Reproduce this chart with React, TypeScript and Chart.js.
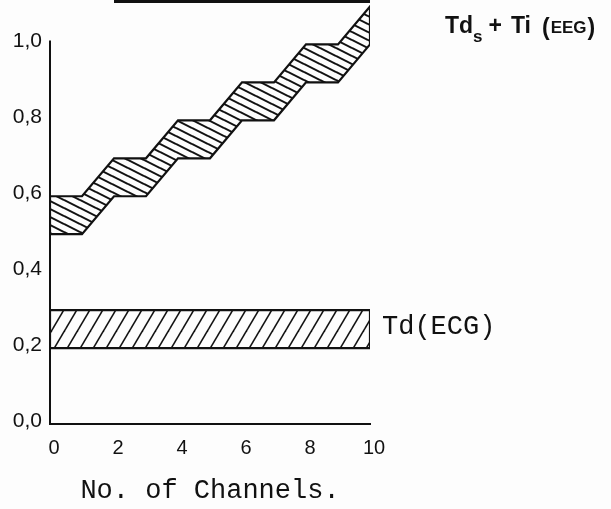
import React, { useEffect, useRef } from "react";
import { Chart, registerables } from "chart.js";

Chart.register(...registerables);

// Channel positions along the x axis
const channels = [0, 1, 2, 3, 4, 5, 6, 7, 8, 9, 10];
// EEG delay band (Td_s + Ti): upper and lower edges per channel count
const eegUpper = [0.6, 0.6, 0.7, 0.7, 0.8, 0.8, 0.9, 0.9, 1.0, 1.0, 1.1];
const eegLower = [0.5, 0.5, 0.6, 0.6, 0.7, 0.7, 0.8, 0.8, 0.9, 0.9, 1.0];
// ECG delay band (Td): constant over all channels
const ecgChannels = [0, 10];
const ecgUpper = [0.3, 0.3];
const ecgLower = [0.2, 0.2];
// Rule running along the top edge
const ruleChannels = [2, 10];
const ruleLevel = [1.113, 1.113];

const yTicks = [0, 0.2, 0.4, 0.6, 0.8, 1.0];
const xTicks = [0, 2, 4, 6, 8, 10];
const yAxisTop = 1.01;
const yMax = 1.117;

const INK = "#111111";

function bandPolygon(xs: number[], upper: number[], lower: number[]) {
  const top = xs.map((x, i) => ({ x, y: upper[i] }));
  const bottom = xs.map((x, i) => ({ x, y: lower[i] })).reverse();
  return [...top, ...bottom, top[0]];
}

function hatch(
  ctx: CanvasRenderingContext2D,
  w: number,
  h: number,
  dir: "down" | "up",
  lw: number
) {
  const tile = document.createElement("canvas");
  tile.width = w;
  tile.height = h;
  const g = tile.getContext("2d")!;
  g.strokeStyle = INK;
  g.lineWidth = lw;
  for (const dx of [-w, 0, w]) {
    for (const dy of [-h, 0, h]) {
      g.beginPath();
      if (dir === "down") {
        g.moveTo(dx, dy);
        g.lineTo(dx + w, dy + h);
      } else {
        g.moveTo(dx, dy + h);
        g.lineTo(dx + w, dy);
      }
      g.stroke();
    }
  }
  return ctx.createPattern(tile, "repeat")!;
}

const labelsPlugin = {
  id: "bandLabels",
  afterDatasetsDraw(chart: any) {
    const { ctx } = chart;
    const x = chart.scales.x;
    const y = chart.scales.y;
    ctx.save();
    // vertical axis line, stopping just above 1,0
    ctx.strokeStyle = INK;
    ctx.lineWidth = 2;
    ctx.beginPath();
    const x0 = x.getPixelForValue(0);
    ctx.moveTo(x0, y.getPixelForValue(0) + 1);
    ctx.lineTo(x0, y.getPixelForValue(yAxisTop));
    ctx.stroke();

    ctx.fillStyle = INK;
    // Td(ECG)
    ctx.font = "27px 'Liberation Mono', 'DejaVu Sans Mono', monospace";
    ctx.textBaseline = "middle";
    ctx.textAlign = "left";
    ctx.fillText("Td(ECG)", x.getPixelForValue(10) + 12, y.getPixelForValue(0.256));

    // Td_s + Ti (EEG)
    let px = x.getPixelForValue(10) + 75;
    const base = y.getPixelForValue(1.03);
    ctx.textBaseline = "alphabetic";
    const big = "bold 23px 'Liberation Sans', Arial, sans-serif";
    const small = "bold 17px 'Liberation Sans', Arial, sans-serif";
    const put = (t: string, font: string, dy: number, gap: number) => {
      ctx.font = font;
      ctx.fillText(t, px, base + dy);
      px += ctx.measureText(t).width + gap;
    };
    put("Td", big, 0, 0);
    put("s", small, 9, 6);
    put("+", big, 0, 9);
    put("Ti", big, 0, 11);
    put("(", big, 2, 1);
    put("EEG", small, 0, 1);
    put(")", big, 2, 0);
    ctx.restore();
  },
};

export default function App() {
  const ref = useRef<HTMLCanvasElement>(null);

  useEffect(() => {
    const canvas = ref.current!;
    const ctx = canvas.getContext("2d")!;
    const eegHatch = hatch(ctx, 16, 8, "down", 2);
    const ecgHatch = hatch(ctx, 13, 22, "up", 1.6);

    const chart = new Chart(canvas, {
      type: "line",
      data: {
        datasets: [
          {
            label: "Td_s + Ti (EEG)",
            data: bandPolygon(channels, eegUpper, eegLower),
            borderColor: INK,
            borderWidth: 2.2,
            backgroundColor: eegHatch,
            fill: "shape",
            pointRadius: 0,
            tension: 0,
          },
          {
            label: "Td (ECG)",
            data: bandPolygon(ecgChannels, ecgUpper, ecgLower),
            borderColor: INK,
            borderWidth: 2.2,
            backgroundColor: ecgHatch,
            fill: "shape",
            pointRadius: 0,
            tension: 0,
          },
          {
            label: "rule",
            data: ruleChannels.map((c, i) => ({ x: c, y: ruleLevel[i] })),
            borderColor: INK,
            borderWidth: 3,
            fill: false,
            pointRadius: 0,
          },
        ],
      },
      options: {
        animation: false,
        responsive: false,
        maintainAspectRatio: false,
        layout: { padding: { left: 0, right: 241, top: 0, bottom: 0 } },
        plugins: {
          legend: { display: false },
          tooltip: { enabled: false },
        },
        scales: {
          x: {
            type: "linear",
            min: 0,
            max: 10,
            grid: { display: false, drawTicks: false },
            border: { display: true, color: INK, width: 2 },
            afterBuildTicks: (s: any) => {
              s.ticks = xTicks.map((v) => ({ value: v }));
            },
            afterFit: (s: any) => {
              s.height = 85;
              s.paddingLeft = 0;
              s.paddingRight = 0;
            },
            ticks: {
              color: INK,
              padding: 12,
              labelOffset: 4,
              maxRotation: 0,
              autoSkip: false,
              font: { family: "'Liberation Sans', Arial, sans-serif", size: 20 },
              callback: (v: any) => String(v),
            },
            title: {
              display: true,
              text: "No. of Channels.",
              color: INK,
              font: { family: "'Liberation Mono', 'DejaVu Sans Mono', monospace", size: 27, lineHeight: 1 },
              padding: { top: 0, bottom: 5 },
            },
          },
          y: {
            type: "linear",
            min: 0,
            max: yMax,
            grid: { display: false, drawTicks: false },
            border: { display: false },
            afterBuildTicks: (s: any) => {
              s.ticks = yTicks.map((v) => ({ value: v }));
            },
            afterFit: (s: any) => {
              s.width = 50;
              s.paddingTop = 0;
              s.paddingBottom = 0;
            },
            ticks: {
              color: INK,
              padding: 8,
              labelOffset: -3,
              font: { family: "'Liberation Sans', Arial, sans-serif", size: 21 },
              callback: (v: any) => Number(v).toFixed(1).replace(".", ","),
            },
          },
        },
      },
      plugins: [labelsPlugin],
    });
    return () => chart.destroy();
  }, []);

  return (
    <div style={{ position: "fixed", left: 0, top: 0, width: 611, height: 509, background: "#fdfdfd" }}>
      <canvas ref={ref} width={611} height={509} style={{ display: "block" }} />
    </div>
  );
}
